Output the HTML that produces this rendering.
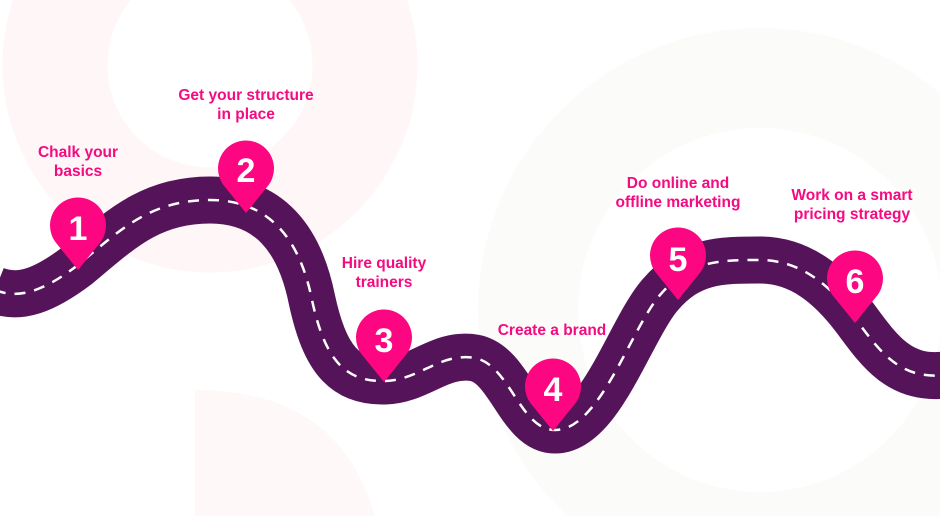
<!DOCTYPE html>
<html><head><style>
html,body{margin:0;padding:0;background:#fff;width:940px;height:516px;overflow:hidden}
svg{display:block}
text{font-family:"Liberation Sans",sans-serif;font-weight:bold;fill:#f50a80;font-size:15.5px;text-anchor:middle}
.n{fill:#fff;font-size:34px}
</style></head><body>
<svg width="940" height="516" viewBox="0 0 940 516" xmlns="http://www.w3.org/2000/svg">
<circle cx="210" cy="65" r="155" fill="none" stroke="#fef6f7" stroke-width="105"/>
<path d="M195,516 L195,390 C290,390 350,430 375,516 Z" fill="#fef8f8"/>
<circle cx="760" cy="310" r="232" fill="none" stroke="#fbfcf9" stroke-width="100"/>
<path d="M-5,290 C20,300 45,290 78,265 C120,230 150,200 210,200 C270,200 300,240 312,300 C325,360 345,382 385,381 C420,380 440,352 475,358 C510,365 520,430 555,430 C600,430 630,330 660,295 C690,260 720,260 760,260 C800,260 830,285 855,318 C880,352 900,380 945,375" fill="none" stroke="#55145a" stroke-width="47"/>
<path d="M-5,290 C20,300 45,290 78,265 C120,230 150,200 210,200 C270,200 300,240 312,300 C325,360 345,382 385,381 C420,380 440,352 475,358 C510,365 520,430 555,430 C600,430 630,330 660,295 C690,260 720,260 760,260 C800,260 830,285 855,318 C880,352 900,380 945,375" fill="none" stroke="#fff" stroke-width="2.5" stroke-dasharray="11 9"/>
<g fill="#fc0781">
<path d="M78,270 L57,244 A28,28 0 1 1 99,244 Z"/>
<path d="M246,213 L225,187 A28,28 0 1 1 267,187 Z"/>
<path d="M384,382 L363,356 A28,28 0 1 1 405,356 Z"/>
<path d="M553,431 L532,405 A28,28 0 1 1 574,405 Z"/>
<path d="M678,300 L657,274 A28,28 0 1 1 699,274 Z"/>
<path d="M855,323 L834,297 A28,28 0 1 1 876,297 Z"/>
</g>
<text class="n" x="78" y="240">1</text>
<text class="n" x="246" y="182">2</text>
<text class="n" x="384" y="352">3</text>
<text class="n" x="553" y="401">4</text>
<text class="n" x="678" y="271">5</text>
<text class="n" x="855" y="293">6</text>
<text x="78" y="157">Chalk your</text><text x="78" y="176">basics</text>
<text x="246" y="100">Get your structure</text><text x="246" y="119">in place</text>
<text x="384" y="268">Hire quality</text><text x="384" y="287">trainers</text>
<text x="552" y="335">Create a brand</text>
<text x="678" y="188">Do online and</text><text x="678" y="207">offline marketing</text>
<text x="852" y="200">Work on a smart</text><text x="852" y="219">pricing strategy</text>
</svg>
</body></html>
